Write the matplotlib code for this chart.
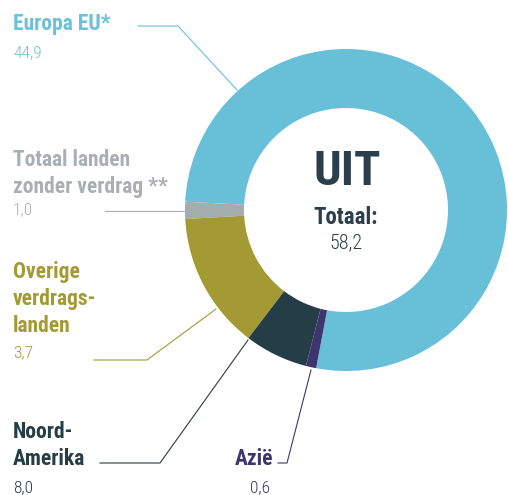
import matplotlib
matplotlib.use("Agg")
import matplotlib.pyplot as plt
from matplotlib import font_manager

names = set(f.name for f in font_manager.fontManager.ttflist)
main = "Roboto"
for cand in ["Roboto Condensed", "Archivo Narrow", "Liberation Sans Narrow"]:
    if cand in names:
        main = cand
        break
plt.rcParams["font.family"] = [main, "DejaVu Sans"]

# data
labels = ["Europa EU*", "Totaal landen\nzonder verdrag **", "Overige\nverdrags-\nlanden",
          "Noord-\nAmerika", "Azië"]
value_text = ["44,9", "1,0", "3,7", "8,0", "0,6"]
# wedge sizes as drawn in the picture (olive and dark wedges drawn 8,0 / 3,7)
wedge_values = [44.9, 1.0, 8.0, 3.7, 0.6]
colors = ["#68BFD8", "#A5ACAE", "#A39A34", "#253D46", "#3E346E"]
text_colors = ["#6CC1DA", "#A9B0B3", "#A39A34", "#253D46", "#3E346E"]
total_text = "58,2"

W, H = 508, 495
fig = plt.figure(figsize=(W / 100, H / 100), dpi=100)
ax = fig.add_axes([0, 0, 1, 1])

def Y(y):
    return H - y

cx, cy, R = 346, Y(210), 161
ax.pie(wedge_values, colors=colors, startangle=259.3, counterclock=True,
       center=(cx, cy), radius=R, wedgeprops=dict(width=R - 102, linewidth=0),
       frame=True)
ax.set_xlim(0, W)
ax.set_ylim(0, H)
ax.set_aspect("equal")
ax.axis("off")

# center text
ax.text(cx + 1, Y(185), "UIT", ha="center", va="baseline", fontsize=35,
        fontweight="bold", color="#2B3E4C")
ax.text(cx, Y(224), "Totaal:", ha="center", va="baseline", fontsize=16.5,
        fontweight="bold", color="#2B3E4C")
ax.text(cx, Y(248), total_text, ha="center", va="baseline", fontsize=14.5,
        fontweight="light", color="#2B3E4C")

# labels: (x, baseline of first line, ha, value baseline, value x)
lab_pos = [
    (13, 30, "left", 57, 13),
    (13, 166, "left", 214, 13),
    (13, 278, "left", 357, 13),
    (13, 438, "left", 492, 13),
    (273, 465, "right", 492, 270),
]
for i in range(len(labels)):
    x, yb, ha, yv, xv = lab_pos[i]
    lines = labels[i].split("\n")
    for j, ln in enumerate(lines):
        ax.text(x, Y(yb + j * 27), ln, ha=ha, va="baseline", fontsize=15.5,
                fontweight="bold", color=text_colors[i])
    ax.text(xv, Y(yv), value_text[i], ha=ha, va="baseline", fontsize=12.5,
            fontweight="light", color=text_colors[i])

# leader lines
leaders = [
    ([138, 178, 237], [26, 26, 90]),
    ([105, 185], [211, 211]),
    ([94, 147, 216], [360, 360, 309]),
    ([100, 160, 248], [463, 463, 340]),
    ([278, 287, 311], [463, 463, 370]),
]
for i, (xs, ys) in enumerate(leaders):
    ax.plot(xs, [Y(v) for v in ys], color=colors[i], linewidth=0.8)

fig.savefig("out.png", dpi=100)
